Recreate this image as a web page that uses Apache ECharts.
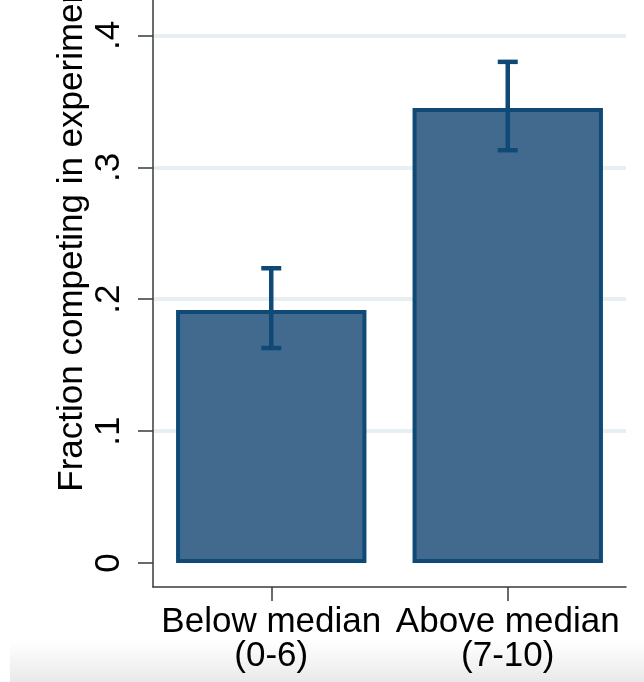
<!DOCTYPE html>
<html>
<head>
<meta charset="utf-8">
<script src="https://cdn.jsdelivr.net/npm/echarts@6/dist/echarts.min.js"></script>
<style>
  html, body { margin: 0; padding: 0; background: #ffffff; }
  #chart { width: 644px; height: 682px; }
</style>
</head>
<body>
<div id="chart"></div>
<script>
// Share of participants choosing to compete, by group
const categories = ['Below median\n(0-6)', 'Above median\n(7-10)'];
const fractionCompeting = [0.1918, 0.345];
const ciLow = [0.163, 0.313];
const ciHigh = [0.2235, 0.380];
const yTickValues = [0, 0.1, 0.2, 0.3, 0.4];

const FONT = '"Liberation Sans", Arial, Helvetica, sans-serif';
const NAVY = '#0f4a77';
const FILL = '#426a8e';
const GRID = '#e6eff1';
const AXIS = '#3a3a3a';

const errorData = categories.map((c, i) => [i, ciLow[i], ciHigh[i]]);

const chart = echarts.init(document.getElementById('chart'), null, { renderer: 'canvas' });

chart.setOption({
  backgroundColor: '#ffffff',
  animation: false,
  textStyle: { fontFamily: FONT },
  graphic: [{
    type: 'rect',
    z: -10,
    silent: true,
    shape: { x: 10, y: 640, width: 634, height: 42 },
    style: {
      fill: new echarts.graphic.LinearGradient(0, 0, 0, 1, [
        { offset: 0, color: 'rgba(236,236,236,0)' },
        { offset: 1, color: 'rgba(232,232,232,1)' }
      ])
    }
  }],
  grid: { left: 153, right: 18, top: 0, bottom: 95, containLabel: false, outerBoundsMode: 'none' },
  xAxis: {
    type: 'category',
    data: categories,
    axisLine: { show: true, onZero: false, lineStyle: { color: AXIS, width: 1.5 } },
    axisTick: { show: true, alignWithLabel: true, length: 14, lineStyle: { color: AXIS, width: 1.5 } },
    axisLabel: {
      color: '#000', fontSize: 35, lineHeight: 34, margin: 18, fontFamily: FONT,
      interval: 0
    },
    splitLine: { show: false }
  },
  yAxis: {
    type: 'value',
    min: -0.0182,
    max: 0.4269,
    name: 'Fraction competing in experiment',
    nameLocation: 'middle',
    nameRotate: 90,
    nameGap: 63,
    nameMoveOverlap: false,
    nameTextStyle: { color: '#000', fontSize: 35, fontFamily: FONT, padding: [0, 0, 0, 121] },
    axisLine: { show: true, lineStyle: { color: AXIS, width: 1.5 } },
    axisTick: { show: true, length: 15, customValues: yTickValues, lineStyle: { color: AXIS, width: 1.5 } },
    axisLabel: {
      customValues: yTickValues,
      rotate: 90,
      margin: 26,
      color: '#000',
      fontSize: 35,
      fontFamily: FONT,
      formatter: v => (v === 0 ? '0' : v.toFixed(1).replace(/^0/, ''))
    },
    splitLine: {
      show: true,
      lineStyle: { color: ['rgba(0,0,0,0)', GRID, GRID, GRID, GRID], width: 4 }
    }
  },
  series: [
    {
      type: 'bar',
      data: fractionCompeting,
      barWidth: '80.5%',
      itemStyle: { color: FILL, borderColor: NAVY, borderWidth: 4 },
      z: 2
    },
    {
      type: 'custom',
      data: errorData,
      encode: { x: 0, y: [1, 2] },
      z: 3,
      renderItem: function (params, api) {
        const x = api.value(0);
        const lo = api.coord([x, api.value(1)]);
        const hi = api.coord([x, api.value(2)]);
        const half = 10;
        const style = { stroke: NAVY, lineWidth: 4.5, lineCap: 'butt' };
        return {
          type: 'group',
          children: [
            { type: 'line', shape: { x1: lo[0], y1: lo[1], x2: hi[0], y2: hi[1] }, style: style },
            { type: 'line', shape: { x1: lo[0] - half, y1: lo[1], x2: lo[0] + half, y2: lo[1] }, style: style },
            { type: 'line', shape: { x1: hi[0] - half, y1: hi[1], x2: hi[0] + half, y2: hi[1] }, style: style }
          ]
        };
      }
    }
  ]
});
</script>
</body>
</html>
